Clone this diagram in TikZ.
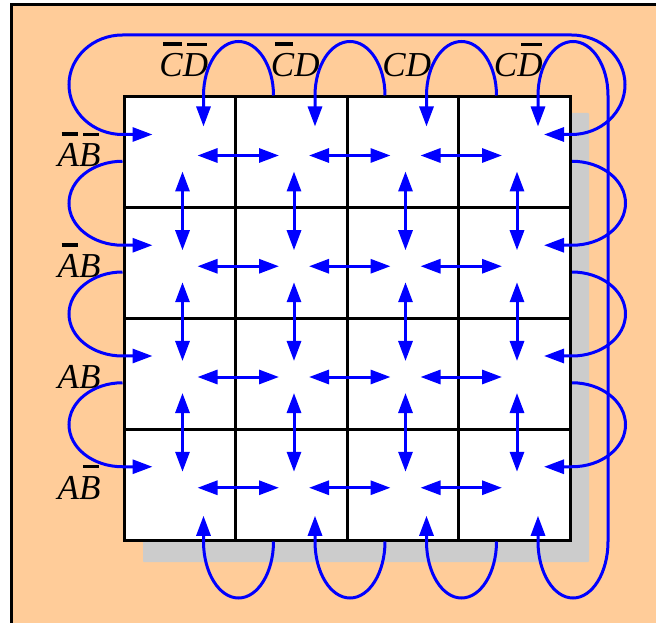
\documentclass[tikz,border=0pt]{standalone}
\usepackage{fontspec}
\setmainfont{Liberation Serif}
\usetikzlibrary{arrows.meta,calc}
\definecolor{peach}{RGB}{255,204,153}
\definecolor{shadowgray}{RGB}{204,204,204}
% letter with a bar over it
\newcommand{\cmpl}[1]{\setbox0\hbox{#1}\vbox{\offinterlineskip\hbox to\wd0{\hskip4pt\leaders\hrule height3.4pt\hfil\hskip1pt}\kern8pt\box0}}
\begin{document}
\begin{tikzpicture}[x=1pt,y=1pt,>={Triangle[length=20pt,width=14pt]},
  cell/.style={draw,line width=3pt,fill=white,minimum width=111.5pt,minimum height=110.75pt,inner sep=0pt,outer sep=0pt,anchor=north west},
  wire/.style={blue,line width=3pt},
  lbl/.style={font=\fontsize{35}{40}\selectfont\itshape,inner sep=0pt,anchor=base}]
\useasboundingbox (0,0) rectangle (656,622);
\clip (0,0) rectangle (656,622);
\draw[line width=3pt,fill=peach] (11,-20) rectangle (680,617);
\fill[shadowgray,rounded corners=1pt] (143,60) rectangle (589,509);
% the map
\foreach \r in {1,...,4} \foreach \c in {1,...,4} {
  \node[cell] (c\r\c) at ({124+111.5*(\c-1)},{525-110.75*(\r-1)}) {};
  \coordinate (p\r\c) at ($(c\r\c.north west)+(58.5,-58.5)$);
}
\foreach \r in {1,...,4} \foreach \c/\n in {1/2,2/3,3/4}
  \draw[wire,<->,shorten <=15pt,shorten >=15pt] (p\r\c) -- (p\r\n);
\foreach \r/\n in {1/2,2/3,3/4} \foreach \c in {1,...,4}
  \draw[wire,<->,shorten <=16pt,shorten >=16pt] (p\r\c) -- (p\n\c);
% wrap round, columns
\foreach \c in {1,...,4} {
  \coordinate (t\c) at ($(p1\c)+(21,29)$);
  \coordinate (b\c) at ($(p4\c)+(21,-28)$);
  \coordinate (te\c) at ($(c1\c.north west)+(149.5,1.5)$);
  \coordinate (be\c) at ($(c4\c.south west)+(149.5,-1.5)$);
}
\foreach \c in {1,2,3} {
  \draw[wire,->] (te\c) arc[start angle=0,end angle=180,x radius=35pt,y radius=54pt] -- (t\c);
  \draw[wire,->] (be\c) arc[start angle=0,end angle=-180,x radius=35pt,y radius=56.5pt] -- (b\c);
}
\draw[wire,<->] (b4) -- (b4 |- be4) arc[start angle=180,end angle=360,x radius=35pt,y radius=56.5pt]
  -- (te4) arc[start angle=0,end angle=180,x radius=35pt,y radius=54pt] -- (t4);
% wrap round, rows
\foreach \r in {1,...,4} {
  \coordinate (l\r) at ($(p\r1)+(-30,21)$);
  \coordinate (rt\r) at ($(p\r4)+(27,21)$);
}
\foreach \r in {2,3,4} {
  \coordinate (le\r) at ($(l\r)+(-30,84)$);
  \coordinate (re\r) at ($(rt\r)+(28,84)$);
  \draw[wire,->] (le\r) arc[start angle=90,end angle=270,x radius=53.5pt,y radius=42pt] -- (l\r);
  \draw[wire,->] (re\r) arc[start angle=90,end angle=-90,x radius=53.5pt,y radius=42pt] -- (rt\r);
}
\draw[wire,<->] (l1) -- ++(-30,0) arc[start angle=270,end angle=90,x radius=53.5pt,y radius=49.75pt]
  -- ++(449,0) arc[start angle=90,end angle=-90,x radius=53.5pt,y radius=49.75pt] -- (rt1);
% labels
\node[lbl] (k1) at (183.75,545) {\cmpl{C}\cmpl{D}};
\node[lbl] (k2) at (295.25,545) {\cmpl{C}D};
\node[lbl] (k3) at (406.75,545) {CD};
\node[lbl] (k4) at (518.25,545) {C\cmpl{D}};
\node[lbl] (h1) at (79,455) {\cmpl{A}\cmpl{B}};
\node[lbl] (h2) at (79,344.25) {\cmpl{A}B};
\node[lbl] (h3) at (79,233.5) {AB};
\node[lbl] (h4) at (79,122.75) {A\cmpl{B}};
\end{tikzpicture}
\end{document}
